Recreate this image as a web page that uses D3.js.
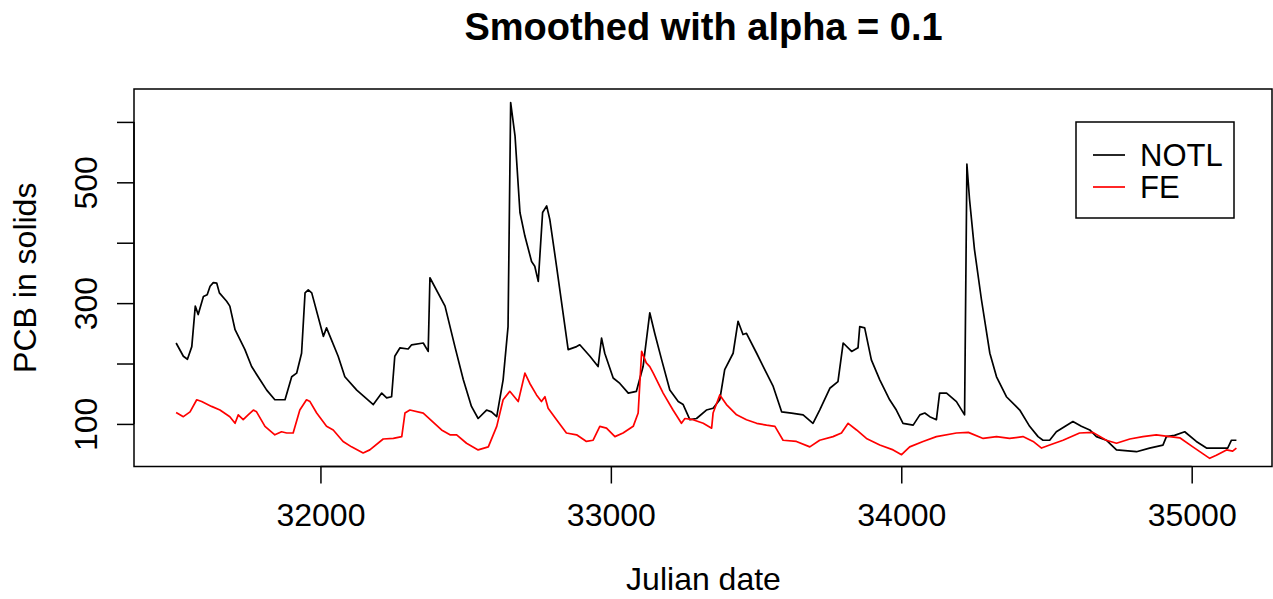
<!DOCTYPE html>
<html>
<head>
<meta charset="utf-8">
<script src="https://cdn.jsdelivr.net/npm/d3@7"></script>
<style>
  body { margin: 0; background: #fff; }
  svg text { font-family: "Liberation Sans", Arial, Helvetica, sans-serif; fill: #000; }
</style>
</head>
<body>
<svg id="chart" width="1273" height="599"></svg>
<script>
// NOTL series (Julian date, PCB)
var notlDate = [31503,31528,31542,31557,31569,31579,31597,31610,31620,31631,31643,31652,31677,31688,31706,31740,31763,31792,31815,31843,31878,31901,31918,31935,31947,31958,31970,32010,32021,32033,32061,32084,32125,32182,32211,32228,32245,32256,32274,32302,32314,32354,32371,32377,32429,32463,32492,32520,32543,32572,32589,32607,32629,32646,32655,32670,32687,32704,32727,32738,32750,32765,32779,32790,32813,32853,32882,32893,32928,32956,32968,32979,33008,33031,33060,33088,33111,33134,33151,33175,33203,33232,33249,33272,33295,33329,33352,33375,33392,33421,33438,33455,33467,33502,33536,33559,33588,33622,33662,33696,33719,33754,33782,33800,33829,33851,33857,33874,33897,33926,33960,33983,34006,34041,34064,34081,34098,34121,34132,34156,34190,34218,34226,34235,34252,34276,34305,34328,34362,34408,34442,34471,34488,34511,34534,34591,34620,34649,34672,34706,34741,34810,34855,34901,34913,34941,34976,35016,35051,35108,35124,35137,35154];
var notlValue = [234,212,207,228,295,281,311,314,328,334,333,317,303,295,256,223,195,173,156,140,140,178,184,217,317,322,317,245,259,245,212,178,156,132,151,143,145,212,226,224,231,234,220,342,295,228,173,129,109,123,120,112,173,261,632,577,450,411,369,361,336,450,461,438,361,223,228,231,212,195,242,217,176,167,151,154,195,284,250,206,156,137,132,107,109,123,126,140,190,217,270,248,250,217,184,162,120,118,115,101,123,159,170,234,220,226,261,259,206,173,140,123,101,98,115,118,112,107,151,151,137,115,530,472,389,306,217,178,145,123,96,79,73,73,87,104,96,90,79,73,57,54,60,65,79,81,87,71,60,60,60,73,73];

// FE series
var feDate = [31503,31528,31551,31574,31591,31625,31654,31688,31706,31717,31734,31751,31769,31780,31809,31843,31866,31884,31906,31929,31952,31964,31987,32021,32044,32078,32107,32147,32170,32216,32251,32280,32291,32308,32354,32417,32446,32469,32503,32543,32578,32607,32629,32652,32681,32704,32721,32744,32761,32773,32784,32813,32847,32882,32916,32939,32962,32985,33014,33042,33077,33094,33106,33122,33134,33146,33180,33214,33243,33255,33283,33318,33347,33352,33375,33398,33433,33467,33502,33536,33565,33593,33639,33685,33719,33765,33794,33817,33846,33880,33926,33972,34001,34029,34075,34121,34190,34231,34282,34328,34373,34419,34454,34483,34511,34557,34614,34660,34706,34741,34787,34832,34878,34924,34959,35004,35062,35085,35120,35141,35154];
var feValue = [119,112,120,140,137,129,123,112,101,115,107,115,123,120,96,82,87,85,85,123,140,137,118,96,90,71,62,52,57,75,76,79,118,123,118,90,82,82,68,57,62,96,140,154,137,184,167,148,137,145,126,107,85,82,71,73,96,93,79,85,96,118,220,201,195,184,151,123,101,109,107,101,93,118,148,132,115,107,101,98,96,73,71,62,73,79,85,101,90,76,65,57,49,62,71,79,85,86,76,79,76,79,71,60,65,73,85,86,73,68,75,79,82,79,77,62,43,48,57,55,60];

var xTicks = [32000, 33000, 34000, 35000];
var yTicks = [100, 200, 300, 400, 500, 600];
var yTickLabels = [100, 300, 500];

var seriesNames = ["NOTL", "FE"];
var seriesColors = ["#000000", "#ff0000"];

var svg = d3.select("#chart");

var boxLeft = 134, boxRight = 1273, boxTop = 89, boxBottom = 466.5;

var x = d3.scaleLinear().domain([31358, 35280]).range([boxLeft, boxRight]);
var y = d3.scaleLinear().domain([29.5, 654.5]).range([boxBottom, boxTop]);

var notl = notlDate.map(function (d, i) { return [d, notlValue[i]]; });
var fe = feDate.map(function (d, i) { return [d, feValue[i]]; });

var line = d3.line()
    .x(function (d) { return x(d[0]); })
    .y(function (d) { return y(d[1]); });

// clip to plot box
svg.append("clipPath").attr("id", "clip")
    .append("rect").attr("x", boxLeft).attr("y", boxTop)
    .attr("width", boxRight - boxLeft).attr("height", boxBottom - boxTop);

var plot = svg.append("g").attr("clip-path", "url(#clip)");

plot.append("path").datum(notl)
    .attr("d", line).attr("fill", "none")
    .attr("stroke", seriesColors[0]).attr("stroke-width", 1.7)
    .attr("stroke-linejoin", "round");

plot.append("path").datum(fe)
    .attr("d", line).attr("fill", "none")
    .attr("stroke", seriesColors[1]).attr("stroke-width", 1.7)
    .attr("stroke-linejoin", "round");

// plot frame
svg.append("rect")
    .attr("x", boxLeft).attr("y", boxTop)
    .attr("width", boxRight - boxLeft - 1).attr("height", boxBottom - boxTop)
    .attr("fill", "none").attr("stroke", "#000").attr("stroke-width", 1.5);

// x axis
var xAxis = svg.append("g").attr("transform", "translate(0," + boxBottom + ")")
    .call(d3.axisBottom(x).tickValues(xTicks).tickSize(17).tickPadding(20)
        .tickFormat(d3.format("d")));
xAxis.select(".domain").remove();
xAxis.append("line")
    .attr("x1", x(xTicks[0])).attr("x2", x(xTicks[xTicks.length - 1]))
    .attr("stroke", "#000").attr("stroke-width", 1.5);
xAxis.selectAll(".tick line").attr("stroke", "#000").attr("stroke-width", 1.5);
xAxis.selectAll(".tick text")
    .attr("font-size", 32).attr("font-family", "Liberation Sans, Arial, sans-serif")
    .attr("fill", "#000");

// y axis
var yAxis = svg.append("g").attr("transform", "translate(" + boxLeft + ",0)")
    .call(d3.axisLeft(y).tickValues(yTicks).tickSize(17)
        .tickFormat(function (d) { return yTickLabels.indexOf(d) >= 0 ? d : ""; }));
yAxis.select(".domain").remove();
yAxis.append("line")
    .attr("y1", y(yTicks[0])).attr("y2", y(yTicks[yTicks.length - 1]))
    .attr("stroke", "#000").attr("stroke-width", 1.5);
yAxis.selectAll(".tick line").attr("stroke", "#000").attr("stroke-width", 1.5);
yAxis.selectAll(".tick text")
    .attr("font-size", 32).attr("font-family", "Liberation Sans, Arial, sans-serif")
    .attr("fill", "#000")
    .attr("x", null).attr("dy", null)
    .attr("text-anchor", "middle")
    .attr("transform", "translate(" + (97 - boxLeft) + ",0) rotate(-90)");

// title and axis labels
svg.append("text")
    .attr("x", (boxLeft + boxRight) / 2).attr("y", 40)
    .attr("text-anchor", "middle").attr("font-size", 38).attr("font-weight", "bold")
    .text("Smoothed with alpha = 0.1");

svg.append("text")
    .attr("x", (boxLeft + boxRight) / 2).attr("y", 590)
    .attr("text-anchor", "middle").attr("font-size", 32)
    .text("Julian date");

svg.append("text")
    .attr("transform", "translate(36," + ((boxTop + boxBottom) / 2) + ") rotate(-90)")
    .attr("text-anchor", "middle").attr("font-size", 32)
    .text("PCB in solids");

// legend
var legend = svg.append("g");
legend.append("rect")
    .attr("x", 1076).attr("y", 122).attr("width", 158).attr("height", 96)
    .attr("fill", "#fff").attr("stroke", "#000").attr("stroke-width", 1.5);

seriesNames.forEach(function (name, i) {
    var ly = 155 + i * 32;
    legend.append("line")
        .attr("x1", 1093).attr("x2", 1125).attr("y1", ly).attr("y2", ly)
        .attr("stroke", seriesColors[i]).attr("stroke-width", 1.7);
    legend.append("text")
        .attr("x", 1140).attr("y", ly + 11)
        .attr("font-size", 31)
        .text(name);
});
</script>
</body>
</html>
